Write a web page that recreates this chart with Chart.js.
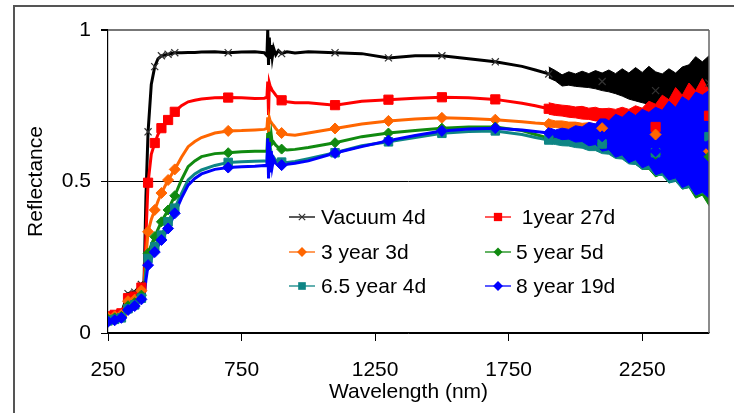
<!DOCTYPE html>
<html><head><meta charset="utf-8">
<script src="https://cdn.jsdelivr.net/npm/chart.js@4.4.1/dist/chart.umd.min.js"></script>
<style>
html,body{margin:0;padding:0;background:#fff;overflow:hidden;}
#wrap{position:relative;width:734px;height:413px;overflow:hidden;}
#frame{position:absolute;left:13px;top:5px;width:900px;height:600px;border-top:2px solid #555;border-left:2px solid #555;}
canvas{position:absolute;left:0;top:0;}
</style></head><body>
<div id="wrap"><div id="frame"></div><canvas id="c" width="734" height="413"></canvas></div>
<script>
// ---- data ----
const wavelengths = [250,275,300,325,350,375,385,392,400,412,
 425,437,450,475,500,525,550,575,600,650,
 700,750,800,835,845,848,851,854,857,861,
 865,870,878,888,900,920,950,1000,1100,1200,
 1300,1400,1500,1600,1700,1800,1850,1900,1950,2000,
 2050,2100,2150,2200,2250,2300,2350,2400,2450,2500];

const vacuum4d = [0.050,0.055,0.065,0.130,0.135,0.160,0.170,0.450,0.664,0.820,
 0.879,0.905,0.915,0.920,0.925,0.925,0.926,0.926,0.927,0.928,
 0.925,0.927,0.928,0.925,0.915,1.000,0.885,0.975,0.905,0.950,
 0.910,0.940,0.918,0.932,0.922,0.928,0.924,0.928,0.925,0.922,
 0.908,0.915,0.915,0.905,0.895,0.880,0.868,0.855,0.830,0.835,
 0.835,0.830,0.825,0.815,0.800,0.800,0.790,0.785,0.830,0.825];

const year1d27 = [0.055,0.060,0.065,0.115,0.120,0.150,0.160,0.320,0.496,0.590,
 0.627,0.655,0.676,0.703,0.730,0.750,0.763,0.768,0.772,0.776,
 0.777,0.776,0.774,0.775,0.778,0.830,0.720,0.825,0.815,0.808,
 0.800,0.795,0.785,0.775,0.768,0.763,0.760,0.760,0.752,0.765,
 0.770,0.775,0.778,0.776,0.771,0.758,0.750,0.740,0.735,0.730,
 0.728,0.725,0.720,0.715,0.700,0.680,0.700,0.710,0.720,0.717];

const year3d3 = [0.050,0.055,0.060,0.105,0.110,0.140,0.150,0.250,0.334,0.375,
 0.406,0.435,0.462,0.505,0.540,0.580,0.615,0.632,0.645,0.660,
 0.667,0.668,0.670,0.672,0.675,0.712,0.660,0.710,0.700,0.695,
 0.690,0.685,0.675,0.665,0.660,0.655,0.653,0.660,0.675,0.690,
 0.700,0.706,0.710,0.708,0.704,0.697,0.693,0.690,0.685,0.682,
 0.680,0.676,0.672,0.668,0.662,0.655,0.645,0.630,0.615,0.600];

const year5d5 = [0.045,0.050,0.055,0.090,0.100,0.125,0.135,0.210,0.263,0.290,
 0.318,0.342,0.367,0.406,0.453,0.505,0.549,0.568,0.582,0.592,
 0.595,0.598,0.600,0.600,0.600,0.660,0.585,0.664,0.630,0.655,
 0.625,0.630,0.620,0.612,0.607,0.604,0.606,0.612,0.628,0.648,
 0.660,0.668,0.676,0.680,0.680,0.668,0.655,0.643,0.636,0.632,
 0.630,0.624,0.620,0.612,0.600,0.590,0.600,0.610,0.600,0.582];

const year6_5d4 = [0.040,0.045,0.050,0.080,0.093,0.115,0.125,0.200,0.246,0.265,
 0.285,0.305,0.323,0.367,0.412,0.460,0.505,0.525,0.538,0.553,
 0.563,0.565,0.567,0.568,0.566,0.620,0.540,0.615,0.580,0.595,
 0.575,0.580,0.570,0.566,0.564,0.563,0.566,0.575,0.595,0.618,
 0.631,0.645,0.659,0.665,0.667,0.655,0.645,0.637,0.632,0.628,
 0.626,0.624,0.614,0.605,0.600,0.595,0.600,0.610,0.630,0.648];

const year8d19 = [0.037,0.042,0.050,0.076,0.089,0.111,0.120,0.175,0.224,0.245,
 0.267,0.287,0.307,0.345,0.395,0.445,0.488,0.510,0.525,0.540,
 0.546,0.549,0.550,0.553,0.552,0.643,0.510,0.630,0.530,0.600,
 0.550,0.575,0.560,0.556,0.554,0.557,0.560,0.568,0.594,0.615,
 0.635,0.652,0.667,0.673,0.676,0.670,0.665,0.660,0.656,0.653,
 0.650,0.649,0.645,0.640,0.630,0.600,0.630,0.620,0.620,0.620];

// noisy long-wavelength region: upper / lower envelope of each trace
const noiseWavelengths = [1900,1925,1950,1975,2000,2025,2050,2075,2100,2125,2150,2175,2200,2225,2250,2275,2300,2325,2350,2375,2400,2425,2450,2475,2500];
const vacuumHi = [0.878,0.866,0.852,0.862,0.855,0.864,0.856,0.866,0.858,0.868,0.856,0.872,0.858,0.876,0.860,0.880,0.862,0.855,0.872,0.858,0.878,0.885,0.912,0.895,0.915];
const vacuumLo = [0.842,0.832,0.815,0.818,0.814,0.812,0.810,0.806,0.800,0.796,0.790,0.782,0.772,0.766,0.760,0.755,0.752,0.758,0.748,0.752,0.745,0.760,0.765,0.755,0.770];
const y1Hi = [0.760,0.755,0.752,0.750,0.746,0.748,0.742,0.745,0.738,0.742,0.738,0.745,0.738,0.750,0.742,0.765,0.755,0.785,0.770,0.810,0.785,0.825,0.800,0.840,0.800];
const y1Lo = [0.722,0.718,0.716,0.712,0.710,0.706,0.705,0.700,0.698,0.690,0.688,0.682,0.680,0.672,0.668,0.660,0.658,0.650,0.645,0.638,0.635,0.640,0.625,0.632,0.640];
const y3Hi = [0.705,0.700,0.700,0.696,0.696,0.692,0.694,0.690,0.692,0.688,0.692,0.694,0.700,0.700,0.712,0.710,0.722,0.715,0.735,0.725,0.748,0.735,0.760,0.745,0.750];
const y3Lo = [0.680,0.678,0.675,0.672,0.670,0.668,0.666,0.662,0.660,0.655,0.652,0.645,0.640,0.630,0.620,0.615,0.610,0.600,0.590,0.580,0.575,0.560,0.550,0.540,0.550];
const y5Hi = [0.658,0.652,0.650,0.646,0.648,0.644,0.648,0.646,0.650,0.648,0.656,0.654,0.668,0.670,0.690,0.685,0.710,0.705,0.745,0.735,0.770,0.755,0.785,0.765,0.780];
const y5Lo = [0.630,0.626,0.622,0.620,0.616,0.614,0.608,0.604,0.596,0.592,0.582,0.576,0.562,0.558,0.540,0.540,0.515,0.525,0.495,0.505,0.475,0.480,0.445,0.455,0.420];
const y65Hi = [0.648,0.642,0.642,0.638,0.640,0.635,0.638,0.634,0.638,0.632,0.640,0.636,0.645,0.640,0.655,0.655,0.670,0.675,0.695,0.695,0.715,0.715,0.735,0.735,0.745];
const y65Lo = [0.626,0.622,0.618,0.617,0.612,0.610,0.602,0.602,0.592,0.590,0.576,0.574,0.558,0.556,0.540,0.542,0.520,0.520,0.495,0.500,0.475,0.480,0.455,0.462,0.450];
const y8Hi = [0.678,0.670,0.676,0.672,0.684,0.680,0.695,0.690,0.715,0.700,0.722,0.712,0.732,0.718,0.738,0.728,0.745,0.735,0.765,0.745,0.780,0.765,0.795,0.785,0.800];
const y8Lo = [0.645,0.646,0.638,0.640,0.630,0.632,0.618,0.622,0.600,0.605,0.580,0.588,0.562,0.572,0.545,0.555,0.522,0.530,0.505,0.512,0.480,0.490,0.455,0.465,0.445];

const seriesNames = ['Vacuum 4d', ' 1year 27d', '3 year 3d', '5 year 5d', '6.5 year 4d', '8 year 19d'];
const xTickValues = [250, 750, 1250, 1750, 2250];
const markerWavelengths = [250,275,300,325,350,375,400,425,450,475,500,700,900,1100,1300,1500,1700,1900,2100,2300,2500];

// ---- styles ----
const seriesValues = [vacuum4d, year1d27, year3d3, year5d5, year6_5d4, year8d19];
const seriesHi = [vacuumHi, y1Hi, y3Hi, y5Hi, y65Hi, y8Hi];
const seriesLo = [vacuumLo, y1Lo, y3Lo, y5Lo, y65Lo, y8Lo];
const colors = ['#000000','#FF0000','#FF6600','#108A10','#0E8585','#0000FF'];
const pStyles = ['crossRot','rect','rectRot','rectRot','rect','rectRot'];
const pRadii = [5, 6.5, 5.5, 5, 6, 5.5];

const FONT = '"Liberation Sans", Arial, sans-serif';
Chart.defaults.font.family = FONT;
Chart.defaults.font.size = 21;
Chart.defaults.color = '#000';

const datasets = [];
seriesValues.forEach((vals, i) => {
  const base = (5 - i) * 3;
  datasets.push({
    label: seriesNames[i] + ' hi',
    data: noiseWavelengths.map((w, k) => ({x: w, y: seriesHi[i][k]})),
    borderColor: colors[i], backgroundColor: colors[i], borderWidth: 1,
    pointRadius: 0, fill: '+1', order: base + 1
  });
  datasets.push({
    label: seriesNames[i] + ' lo',
    data: noiseWavelengths.map((w, k) => ({x: w, y: seriesLo[i][k]})),
    borderColor: colors[i], backgroundColor: colors[i], borderWidth: 1,
    pointRadius: 0, fill: false, order: base + 2
  });
  datasets.push({
    label: seriesNames[i],
    data: wavelengths.map((w, k) => ({x: w, y: vals[k]})),
    borderColor: colors[i], backgroundColor: colors[i], borderWidth: 3,
    pointRadius: 0, fill: false, tension: 0, order: base
  });
});
// markers drawn over all lines (as in the original spreadsheet chart)
seriesValues.forEach((vals, i) => {
  datasets.push({
    label: seriesNames[i] + ' markers',
    data: wavelengths.map((w, k) => ({x: w, y: vals[k]})).filter(p => markerWavelengths.includes(p.x)),
    showLine: false,
    pointStyle: pStyles[i],
    pointRadius: pRadii[i],
    pointBorderWidth: i === 0 ? 1.2 : 1,
    pointBorderColor: i === 0 ? '#333' : colors[i],
    pointBackgroundColor: colors[i],
    borderColor: colors[i], backgroundColor: colors[i],
    order: -10 + (5 - i)
  });
});

function drawMarker(ctx, style, x, y, r, color) {
  ctx.save();
  ctx.fillStyle = color; ctx.strokeStyle = color;
  if (style === 'rect') {
    const s = r * Math.SQRT1_2;
    ctx.fillRect(x - s, y - s, 2 * s, 2 * s);
  } else if (style === 'rectRot') {
    ctx.beginPath();
    ctx.moveTo(x - r, y); ctx.lineTo(x, y - r); ctx.lineTo(x + r, y); ctx.lineTo(x, y + r);
    ctx.closePath(); ctx.fill();
  } else {
    const s = r * Math.SQRT1_2;
    ctx.lineWidth = 1.2; ctx.strokeStyle = '#333';
    ctx.beginPath();
    ctx.moveTo(x - s, y - s); ctx.lineTo(x + s, y + s);
    ctx.moveTo(x - s, y + s); ctx.lineTo(x + s, y - s);
    ctx.stroke();
  }
  ctx.restore();
}

const innerLegend = {
  id: 'innerLegend',
  afterDraw(chart) {
    const ctx = chart.ctx;
    const colX = [289, 485];
    const textX = [321, 516];
    const rowY = [217, 252, 286];
    ctx.save();
    ctx.font = '21px ' + FONT;
    ctx.textBaseline = 'middle';
    ctx.textAlign = 'left';
    seriesNames.forEach((name, i) => {
      const c = i % 2, r = Math.floor(i / 2);
      const y = rowY[r];
      ctx.strokeStyle = colors[i];
      ctx.lineWidth = 1.3;
      ctx.beginPath(); ctx.moveTo(colX[c], y); ctx.lineTo(colX[c] + 26, y); ctx.stroke();
      drawMarker(ctx, pStyles[i], colX[c] + 13, y, pRadii[i] * 0.9, colors[i]);
      ctx.fillStyle = '#000';
      ctx.fillText(name, textX[c], y + 1);
    });
    ctx.restore();
  }
};

const plotBorder = {
  id: 'plotBorder',
  afterDatasetsDraw(chart) {
    const a = chart.chartArea, ctx = chart.ctx;
    ctx.save();
    ctx.strokeStyle = '#666';
    ctx.lineWidth = 1.5;
    ctx.beginPath();
    ctx.moveTo(a.right, a.top); ctx.lineTo(a.right, a.bottom);
    ctx.stroke();
    ctx.restore();
  }
};

new Chart(document.getElementById('c'), {
  type: 'line',
  data: { datasets },
  plugins: [plotBorder, innerLegend],
  options: {
    responsive: false, animation: false, devicePixelRatio: 1,
    layout: { padding: { left: 0, right: 25, top: 30, bottom: 0 } },
    plugins: { legend: { display: false }, tooltip: { enabled: false } },
    scales: {
      x: {
        type: 'linear', min: 250, max: 2500,
        afterBuildTicks: s => { s.ticks = xTickValues.map(v => ({ value: v })); },
        afterFit: s => { s.height = 80; },
        ticks: { callback: v => String(v), padding: 17, maxRotation: 0, autoSkip: false, font: { size: 21 } },
        grid: { drawOnChartArea: false, drawTicks: true, tickLength: 8, color: '#000', tickColor: '#000' },
        border: { color: '#000', width: 1.2 },
        title: { display: true, text: 'Wavelength (nm)', font: { size: 21 }, padding: { top: 0, bottom: 8 } }
      },
      y: {
        min: 0, max: 1,
        afterFit: s => { s.width = 108; },
        ticks: { stepSize: 0.5, callback: v => String(v), padding: 10, font: { size: 21 } },
        grid: {
          drawOnChartArea: true, tickLength: 7, tickColor: '#000',
          color: c => c.tick.value === 1 ? '#777' : '#000',
          lineWidth: c => c.tick.value === 1 ? 2 : 1
        },
        border: { color: '#000', width: 1.2 },
        title: { display: true, text: 'Reflectance', font: { size: 21 }, padding: { top: 24, bottom: 0 } }
      }
    }
  }
});
</script>
</body></html>
